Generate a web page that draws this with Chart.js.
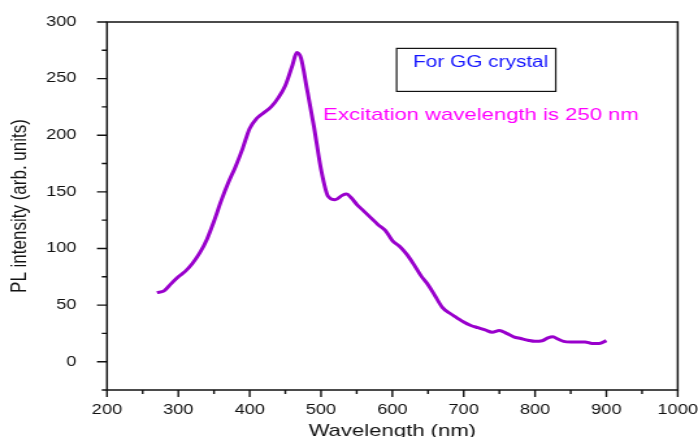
<!DOCTYPE html>
<html>
<head>
<meta charset="utf-8">
<script src="https://cdn.jsdelivr.net/npm/chart.js@4"></script>
<style>
  html, body { margin: 0; padding: 0; background: #fff; overflow: hidden; }
  /* the source figure is stretched horizontally, so the chart is drawn narrow and scaled */
  #wrap { width: 537px; height: 437px; transform: scaleX(1.2998); transform-origin: 0 0; }
</style>
</head>
<body>
<div id="wrap"><canvas id="grafico" width="537" height="437"></canvas></div>
<script>
// Dados ======================================================================

const wavelengths = [
  270, 280, 290, 300, 310, 320, 330, 340, 350, 360, 370, 380, 390, 400, 410,
  420, 430, 440, 450, 460, 466, 472, 480, 490, 500, 510, 520, 530, 536, 542,
  550, 560, 570, 580, 590, 600, 610, 620, 630, 640, 650, 660, 670, 680, 690,
  700, 710, 720, 730, 740, 750, 760, 770, 780, 790, 800, 810, 818, 825, 832,
  840, 850, 860, 870, 880, 890, 900,
];
const intensities = [
  61, 62.5, 69, 75, 80, 87, 96, 108, 124, 142, 158, 172, 188, 206, 215,
  220, 225, 233, 244, 262, 273, 268, 242, 208, 170, 146, 143, 147, 148, 145,
  139, 133, 127, 121, 116, 107, 102, 95, 86, 76, 68, 58, 48, 43, 39,
  35, 32, 30, 28, 26, 27.5, 25, 22, 20.5, 19, 18, 18.5, 21, 22, 20,
  18, 17.5, 17.5, 17.5, 16, 16, 18.6,
];
const xTickLabels = [200, 300, 400, 500, 600, 700, 800, 900, 1000];
const yTickLabels = [0, 50, 100, 150, 200, 250, 300];

const FONT = "'Liberation Sans', Arial, sans-serif";

// Moldura e marcas dos eixos (estilo Origin) ==================================

const molduraPlugin = {
  id: "moldura",
  afterDraw(chart) {
    const { ctx, chartArea: a, scales } = chart;
    ctx.save();
    ctx.strokeStyle = "#111";
    ctx.lineWidth = 1.5;
    ctx.strokeRect(a.left, a.top, a.right - a.left, a.bottom - a.top);
    ctx.lineWidth = 1.4;
    ctx.beginPath();
    for (let v = 200; v <= 1000; v += 50) {
      const px = scales.x.getPixelForValue(v);
      const len = v % 100 === 0 ? 7 : 4;
      ctx.moveTo(px, a.bottom);
      ctx.lineTo(px, a.bottom + len);
    }
    for (let v = -25; v <= 300; v += 25) {
      const py = scales.y.getPixelForValue(v);
      const len = v % 50 === 0 ? 7.7 : 4;
      ctx.moveTo(a.left, py);
      ctx.lineTo(a.left - len, py);
    }
    ctx.stroke();

    // caixa "For GG crystal"
    const bx0 = scales.x.getPixelForValue(606);
    const bx1 = scales.x.getPixelForValue(829);
    const by0 = scales.y.getPixelForValue(276.7);
    const by1 = scales.y.getPixelForValue(238.7);
    ctx.lineWidth = 1.2;
    ctx.strokeRect(bx0, by0, bx1 - bx0, by1 - by0);
    ctx.font = "16px " + FONT;
    ctx.fillStyle = "#1414ff";
    ctx.textBaseline = "alphabetic";
    ctx.fillText("For GG crystal", scales.x.getPixelForValue(629), scales.y.getPixelForValue(260.5));

    ctx.font = "17px " + FONT;
    ctx.fillStyle = "#ff00ff";
    ctx.fillText("Excitation wavelength is 250 nm", scales.x.getPixelForValue(503), scales.y.getPixelForValue(213.5));
    ctx.restore();
  },
};

const data = {
  datasets: [
    {
      label: "PL",
      data: wavelengths.map((w, i) => ({ x: w, y: intensities[i] })),
      borderColor: "#9900cc",
      borderWidth: 3,
      pointRadius: 0,
      tension: 0.4,
      cubicInterpolationMode: "monotone",
      fill: false,
    },
  ],
};

const config = {
  type: "line",
  data: data,
  plugins: [molduraPlugin],
  options: {
    responsive: false,
    animation: false,
    layout: { padding: { top: 22, right: 15.6, left: 0, bottom: 0 } },
    plugins: { legend: { display: false }, tooltip: { enabled: false } },
    scales: {
      x: {
        type: "linear",
        min: 200,
        max: 1000,
        grid: { display: false },
        border: { display: false },
        ticks: {
          stepSize: 50,
          autoSkip: false,
          maxRotation: 0,
          padding: 4,
          color: "#111",
          font: { family: FONT, size: 14 },
          callback: (v) => (xTickLabels.includes(v) ? String(v) : ""),
        },
        title: {
          display: true,
          text: "Wavelength (nm)",
          color: "#111",
          font: { family: FONT, size: 17, lineHeight: 1 },
          padding: { top: 0, bottom: -2.5 },
        },
        afterFit: (scale) => {
          scale.height = 47;
          scale.paddingLeft = 0;
          scale.paddingRight = 0;
        },
      },
      y: {
        min: -25,
        max: 300,
        grid: { display: false },
        border: { display: false },
        ticks: {
          stepSize: 25,
          autoSkip: false,
          padding: 15.5,
          color: "#111",
          font: { family: FONT, size: 14 },
          callback: (v) => (yTickLabels.includes(v) ? String(v) : ""),
        },
        title: {
          display: true,
          text: "PL intensity (arb. units)",
          color: "#111",
          font: { family: FONT, size: 17, lineHeight: 1 },
          padding: { top: 7, bottom: 0 },
        },
        afterFit: (scale) => {
          scale.width = 82.3;
          scale.paddingTop = 0;
          scale.paddingBottom = 0;
        },
      },
    },
  },
};

const grafico = new Chart(document.getElementById("grafico"), config);
</script>
</body>
</html>
